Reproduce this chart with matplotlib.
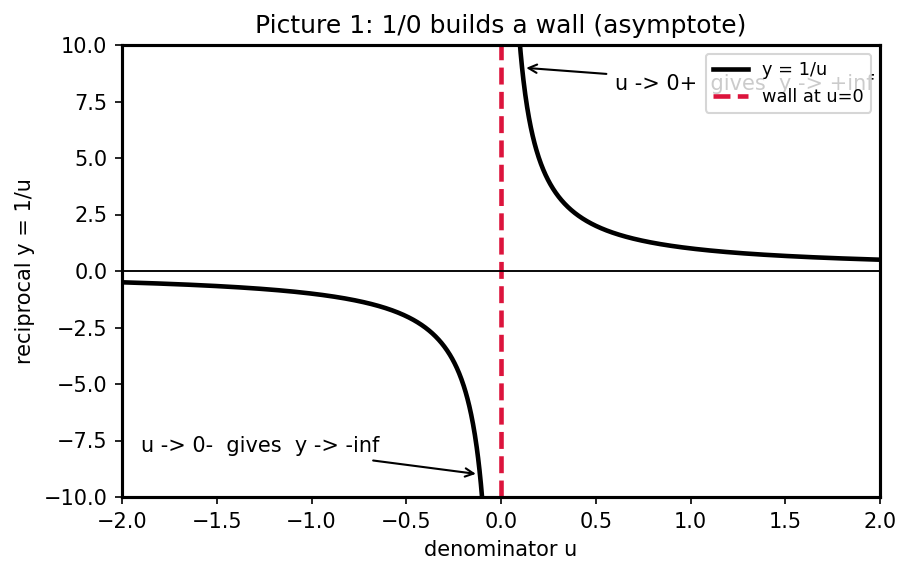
import numpy as np
import matplotlib
matplotlib.use("Agg")
import matplotlib.pyplot as plt

u_left = np.linspace(-2.0, -0.05, 800)
u_right = np.linspace(0.05, 2.0, 800)
x_limits = [-2, 2]
y_limits = [-10, 10]
title = "Picture 1: 1/0 builds a wall (asymptote)"

fig = plt.figure(figsize=(911/150, 573/150), dpi=150)
ax = fig.add_axes([122/911, 1-497/573, (880-122)/911, (497-45)/573])

ax.plot(u_left, 1/u_left, color="black", lw=2.2, label="y = 1/u")
ax.plot(u_right, 1/u_right, color="black", lw=2.2)
ax.axvline(0, color="#DC143C", lw=2.2, ls="--", label="wall at u=0")
ax.axhline(0, color="black", lw=0.9)

ax.annotate("u -> 0+  gives  y -> +inf", xy=(1/9, 9), xytext=(0.6, 8),
            arrowprops=dict(arrowstyle="->", color="black", lw=1), fontsize=10)
ax.annotate("u -> 0-  gives  y -> -inf", xy=(-1/9, -9), xytext=(-1.9, -8),
            arrowprops=dict(arrowstyle="->", color="black", lw=1), fontsize=10)

ax.set_xlim(x_limits)
ax.set_ylim(y_limits)
ax.set_title(title, fontsize=12)
ax.set_xlabel("denominator u", fontsize=10)
ax.set_ylabel("reciprocal y = 1/u", fontsize=10)
ax.tick_params(labelsize=10)
for s in ax.spines.values():
    s.set_linewidth(1.5)
ax.legend(loc="upper right", fontsize=8.5)

fig.savefig("out.png", dpi=150)
